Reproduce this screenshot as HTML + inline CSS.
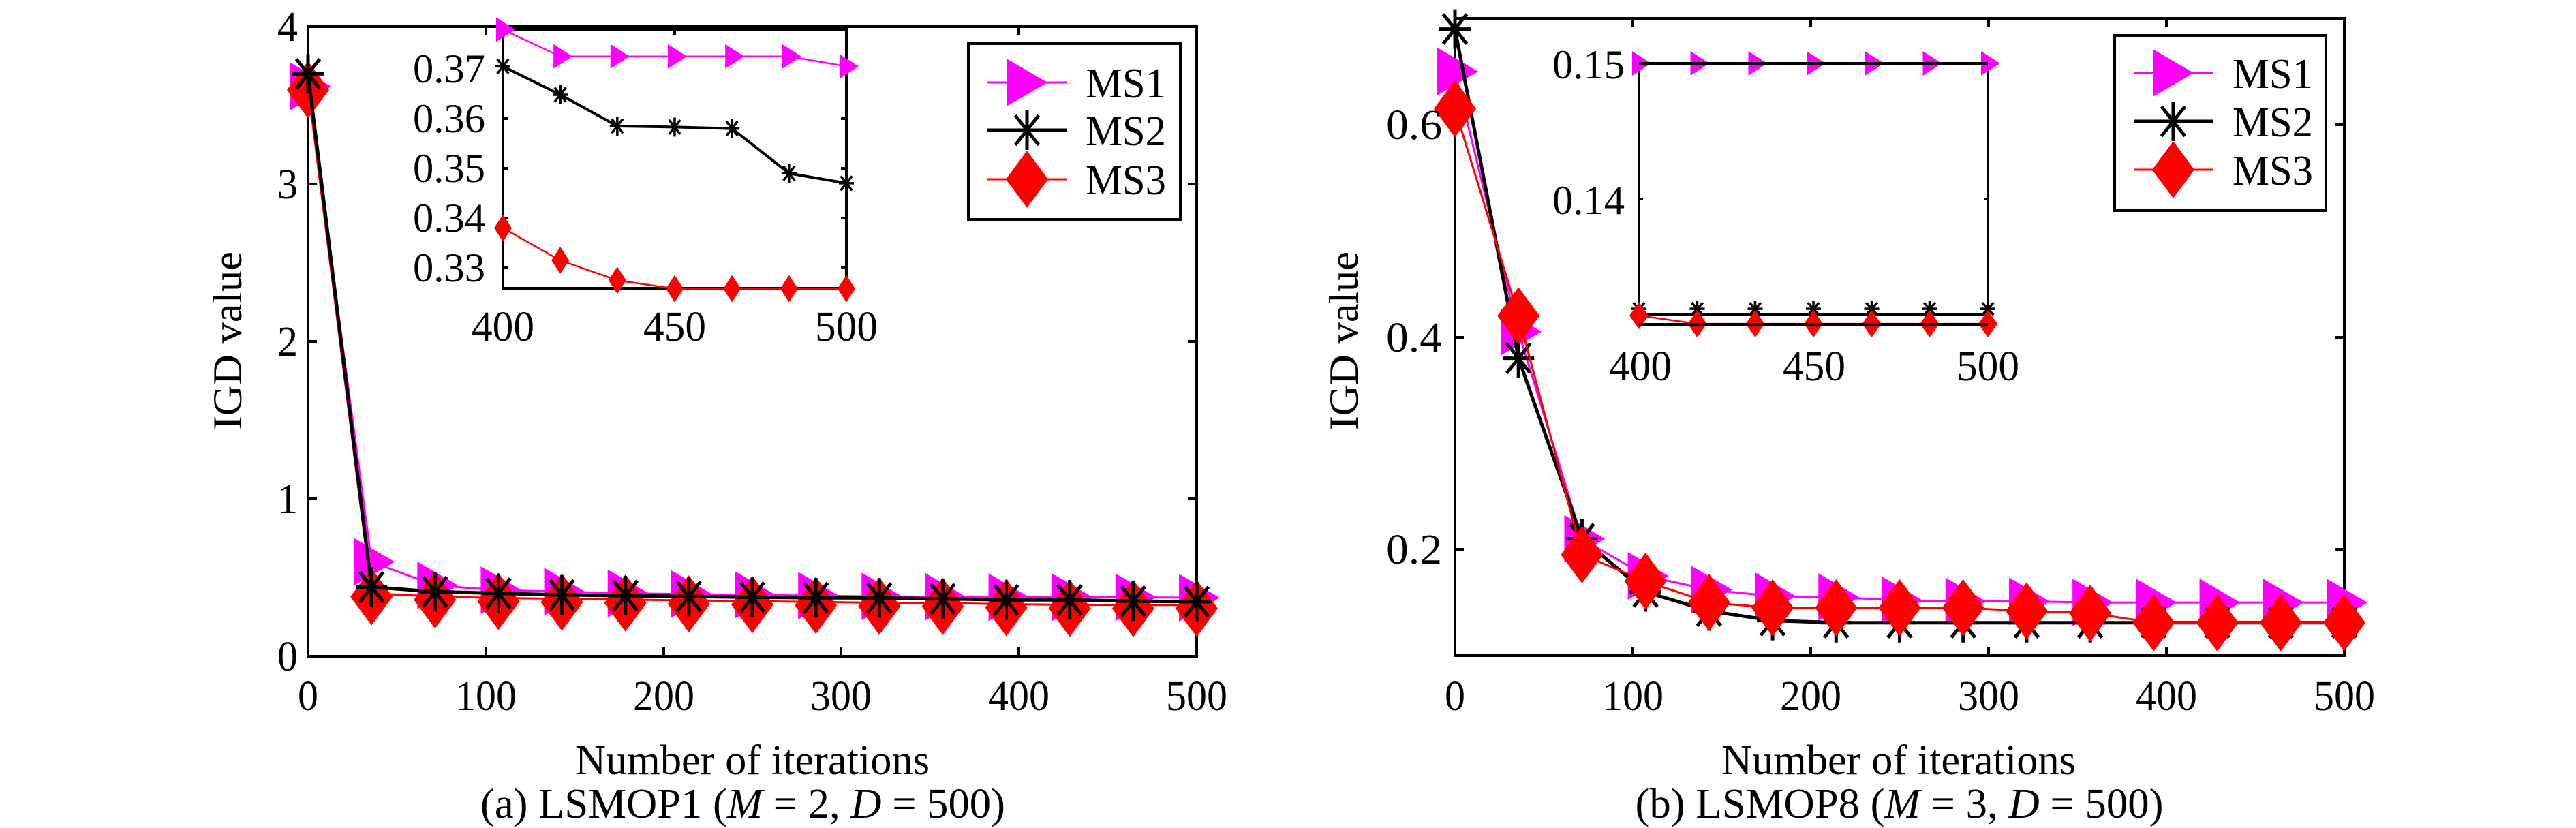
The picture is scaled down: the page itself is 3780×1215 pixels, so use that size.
<!DOCTYPE html>
<html><head><meta charset="utf-8"><style>
html,body{margin:0;padding:0;background:#fff;}
svg{display:block;}
svg text{font-family:"Liberation Serif","Times New Roman",serif;fill:#000;}
</style></head><body>
<svg id="s" width="3780" height="1215" viewBox="0 0 3780 1215" xmlns="http://www.w3.org/2000/svg" font-family="Liberation Serif, serif">
<rect width="3780" height="1215" fill="#fff"/>
<g id="g"></g>
<!-- left panel text -->
<g font-size="62" text-anchor="end">
<text x="437" y="60" textLength="30" lengthAdjust="spacingAndGlyphs">4</text>
<text x="437" y="291" textLength="30" lengthAdjust="spacingAndGlyphs">3</text>
<text x="437" y="522" textLength="30" lengthAdjust="spacingAndGlyphs">2</text>
<text x="437" y="753" textLength="30" lengthAdjust="spacingAndGlyphs">1</text>
<text x="437" y="984" textLength="30" lengthAdjust="spacingAndGlyphs">0</text>
</g>
<g font-size="62" text-anchor="middle">
<text x="452" y="1042" textLength="30" lengthAdjust="spacingAndGlyphs">0</text>
<text x="713" y="1042" textLength="90" lengthAdjust="spacingAndGlyphs">100</text>
<text x="974" y="1042" textLength="90" lengthAdjust="spacingAndGlyphs">200</text>
<text x="1234" y="1042" textLength="90" lengthAdjust="spacingAndGlyphs">300</text>
<text x="1495" y="1042" textLength="90" lengthAdjust="spacingAndGlyphs">400</text>
<text x="1756" y="1042" textLength="90" lengthAdjust="spacingAndGlyphs">500</text>
<text x="738" y="500" textLength="92" lengthAdjust="spacingAndGlyphs">400</text>
<text x="990" y="500" textLength="92" lengthAdjust="spacingAndGlyphs">450</text>
<text x="1242" y="500" textLength="92" lengthAdjust="spacingAndGlyphs">500</text>
</g>
<g font-size="60" text-anchor="end">
<text x="712" y="121" textLength="106" lengthAdjust="spacingAndGlyphs">0.37</text>
<text x="712" y="194" textLength="106" lengthAdjust="spacingAndGlyphs">0.36</text>
<text x="712" y="267" textLength="106" lengthAdjust="spacingAndGlyphs">0.35</text>
<text x="712" y="340" textLength="106" lengthAdjust="spacingAndGlyphs">0.34</text>
<text x="712" y="413" textLength="106" lengthAdjust="spacingAndGlyphs">0.33</text>
</g>
<text x="1104" y="1136" font-size="62" text-anchor="middle" textLength="520" lengthAdjust="spacingAndGlyphs">Number of iterations</text>
<text x="1090" y="1200" font-size="62" text-anchor="middle" textLength="770" lengthAdjust="spacingAndGlyphs">(a) LSMOP1 (<tspan font-style="italic">M</tspan> = 2, <tspan font-style="italic">D</tspan> = 500)</text>
<text transform="translate(354,500) rotate(-90)" font-size="60" text-anchor="middle" textLength="262" lengthAdjust="spacingAndGlyphs">IGD value</text>
<g font-size="62">
<text x="1593" y="143" textLength="118" lengthAdjust="spacingAndGlyphs">MS1</text>
<text x="1593" y="213" textLength="118" lengthAdjust="spacingAndGlyphs">MS2</text>
<text x="1593" y="285" textLength="118" lengthAdjust="spacingAndGlyphs">MS3</text>
</g>
<!-- right panel text -->
<g font-size="62" text-anchor="end">
<text x="2116" y="204" textLength="82" lengthAdjust="spacingAndGlyphs">0.6</text>
<text x="2116" y="516" textLength="82" lengthAdjust="spacingAndGlyphs">0.4</text>
<text x="2116" y="827" textLength="82" lengthAdjust="spacingAndGlyphs">0.2</text>
</g>
<g font-size="62" text-anchor="middle">
<text x="2135" y="1042" textLength="30" lengthAdjust="spacingAndGlyphs">0</text>
<text x="2396" y="1042" textLength="90" lengthAdjust="spacingAndGlyphs">100</text>
<text x="2657" y="1042" textLength="90" lengthAdjust="spacingAndGlyphs">200</text>
<text x="2918" y="1042" textLength="90" lengthAdjust="spacingAndGlyphs">300</text>
<text x="3179" y="1042" textLength="90" lengthAdjust="spacingAndGlyphs">400</text>
<text x="3440" y="1042" textLength="90" lengthAdjust="spacingAndGlyphs">500</text>
<text x="2407" y="558" textLength="92" lengthAdjust="spacingAndGlyphs">400</text>
<text x="2662" y="558" textLength="92" lengthAdjust="spacingAndGlyphs">450</text>
<text x="2917" y="558" textLength="92" lengthAdjust="spacingAndGlyphs">500</text>
</g>
<g font-size="60" text-anchor="end">
<text x="2384" y="115" textLength="106" lengthAdjust="spacingAndGlyphs">0.15</text>
<text x="2384" y="314" textLength="106" lengthAdjust="spacingAndGlyphs">0.14</text>
</g>
<text x="2786" y="1136" font-size="62" text-anchor="middle" textLength="520" lengthAdjust="spacingAndGlyphs">Number of iterations</text>
<text x="2787" y="1200" font-size="62" text-anchor="middle" textLength="775" lengthAdjust="spacingAndGlyphs">(b) LSMOP8 (<tspan font-style="italic">M</tspan> = 3, <tspan font-style="italic">D</tspan> = 500)</text>
<text transform="translate(1992,500) rotate(-90)" font-size="60" text-anchor="middle" textLength="262" lengthAdjust="spacingAndGlyphs">IGD value</text>
<g font-size="62">
<text x="3276" y="129" textLength="118" lengthAdjust="spacingAndGlyphs">MS1</text>
<text x="3276" y="200" textLength="118" lengthAdjust="spacingAndGlyphs">MS2</text>
<text x="3276" y="271" textLength="118" lengthAdjust="spacingAndGlyphs">MS3</text>
</g>
</svg>
<script>
(function(){
var NS="http://www.w3.org/2000/svg",g=document.getElementById("g");
function el(t,a){var e=document.createElementNS(NS,t);for(var k in a)e.setAttribute(k,a[k]);g.appendChild(e);return e;}
function line(x1,y1,x2,y2,c,w){el("line",{x1:x1,y1:y1,x2:x2,y2:y2,stroke:c,"stroke-width":w});}
function poly(pts,c,w){el("polyline",{points:pts.map(function(p){return p[0]+","+p[1]}).join(" "),fill:"none",stroke:c,"stroke-width":w,"stroke-linejoin":"round"});}
function tri(x,y,w,h){el("polygon",{points:(x-w/2)+","+(y-h/2)+" "+(x+w/2)+","+y+" "+(x-w/2)+","+(y+h/2),fill:"#f0f"});}
function dia(x,y,w,h){el("polygon",{points:x+","+(y-h/2)+" "+(x+w/2)+","+y+" "+x+","+(y+h/2)+" "+(x-w/2)+","+y,fill:"#f00"});}
function star(x,y,w,h,sw){var a=w/2,b=h/2;line(x-a,y,x+a,y,"#000",sw);line(x,y-b,x,y+b,"#000",sw);line(x-a*0.75,y-b*0.75,x+a*0.75,y+b*0.75,"#000",sw);line(x-a*0.75,y+b*0.75,x+a*0.75,y-b*0.75,"#000",sw);}
function axes(x0,x1,y0,y1,xt,yt,tl,w){
 el("rect",{x:x0,y:y0,width:x1-x0,height:y1-y0,fill:"none",stroke:"#000","stroke-width":w});
 xt.forEach(function(x){line(x,y1,x,y1-tl,"#000",w);line(x,y0,x,y0+tl,"#000",w);});
 yt.forEach(function(y){line(x0,y,x0+tl,y,"#000",w);line(x1,y,x1-tl,y,"#000",w);});
}
function series(xs,ys,sx,sy){
 return ys.map(function(s){return xs.map(function(x,i){return [sx(x),sy(s[i])]});});
}
var xs=[];for(var i=0;i<15;i++)xs.push(500*i/14);
var Lx=function(v){return 452+v/500*1304},Ly=function(v){return 963-v/4*924};
var A1=[3.62,0.60,0.45,0.42,0.41,0.40,0.395,0.39,0.385,0.38,0.378,0.375,0.375,0.375,0.372];
var A2=[3.70,0.44,0.41,0.40,0.39,0.385,0.38,0.375,0.372,0.37,0.365,0.358,0.358,0.35,0.347];
var A3=[3.62,0.40,0.38,0.37,0.365,0.36,0.355,0.35,0.345,0.34,0.338,0.331,0.327,0.326,0.326];
axes(452,1756,39,963,[452,713,974,1234,1495,1756],[39,270,501,732,963],13,4);
var P=series(xs,[A1,A2,A3],Lx,Ly);
poly(P[0],"#f0f",3);P[0].forEach(function(p){tri(p[0]+4,p[1],60,70)});
poly(P[2],"#f00",3);P[2].forEach(function(p){dia(p[0],p[1]+5,62,84)});
poly(P[1],"#000",5);P[1].forEach(function(p){star(p[0],p[1],46,58,5)});
var ix=function(v){return 738+(v-400)/100*504},iy=function(v){return 101+(0.37-v)/0.01*73};
el("rect",{x:738,y:43,width:504,height:380,fill:"#fff",stroke:"none"});
var xi=[400,416.7,433.3,450,466.7,483.3,500];
var I1=[0.3779,0.3725,0.3725,0.3725,0.3725,0.3725,0.3705],I2=[0.3705,0.3648,0.3585,0.3583,0.358,0.349,0.347],I3=[0.338,0.3315,0.3275,0.3258,0.3258,0.3258,0.3258];
axes(738,1242,43,423,[738,990,1242],[101,174,247,320,393],8,4);
var Q=series(xi,[I1,I2,I3],ix,iy);
poly(Q[0],"#f0f",2.5);Q[0].forEach(function(p){tri(p[0]+4,p[1],28,36)});
poly(Q[2],"#f00",2.5);Q[2].forEach(function(p){dia(p[0],p[1],26,40)});
poly(Q[1],"#000",4);Q[1].forEach(function(p){star(p[0],p[1],22,28,3.5)});
el("rect",{x:1421,y:64,width:311,height:258,fill:"#fff",stroke:"#000","stroke-width":4});
line(1449,121,1565,121,"#f0f",3);tri(1507,121,60,70);
line(1449,191,1565,191,"#000",5);star(1507,191,46,58,5);
line(1449,263,1565,263,"#f00",3);dia(1507,263,62,84);
var Rx=function(v){return 2135+v/500*1305},Ry=function(v){return 962-(v-0.1)/0.6*935};
var B1=[0.650,0.405,0.210,0.175,0.162,0.156,0.155,0.152,0.151,0.151,0.150,0.150,0.150,0.150,0.150];
var B2=[0.690,0.380,0.210,0.160,0.142,0.133,0.131,0.131,0.131,0.131,0.131,0.131,0.131,0.131,0.131];
var B3=[0.615,0.420,0.195,0.170,0.150,0.145,0.145,0.145,0.145,0.142,0.140,0.131,0.131,0.131,0.131];
axes(2135,3440,27,962,[2135,2396,2657,2918,3179,3440],[183,495,806],13,4);
var R=series(xs,[B1,B2,B3],Rx,Ry);
poly(R[0],"#f0f",3);R[0].forEach(function(p){tri(p[0]+4,p[1],60,70)});
poly(R[1],"#000",5);R[1].forEach(function(p){star(p[0],p[1],46,58,5)});
poly(R[2],"#f00",3);R[2].forEach(function(p){dia(p[0],p[1],62,84)});
var jx=function(v){return 2405+(v-400)/100*512},jy=function(v){return 93+(0.15-v)/0.01*199};
el("rect",{x:2405,y:93,width:512,height:383,fill:"#fff",stroke:"none"});
var J1=[0.15,0.15,0.15,0.15,0.15,0.15,0.15],J2=[0.1315,0.1315,0.1315,0.1315,0.1315,0.1315,0.1315],J3=[0.1314,0.1308,0.1308,0.1308,0.1308,0.1308,0.1308];
axes(2405,2917,93,476,[2405,2661,2917],[292],6,4);
var S=series(xi,[J1,J2,J3],jx,jy);
poly(S[0],"#f0f",2.5);S[0].forEach(function(p){tri(p[0]+4,p[1],28,36)});
poly(S[1],"#000",4);S[1].forEach(function(p){star(p[0],p[1]-8,22,24,3.5)});
poly(S[2],"#f00",2.5);S[2].forEach(function(p){dia(p[0],p[1],28,40)});
line(2405,476,2917,476,"#000",4);line(2405,93,2917,93,"#000",4);
el("rect",{x:3103,y:52,width:310,height:257,fill:"#fff",stroke:"#000","stroke-width":4});
line(3131,107,3247,107,"#f0f",3);tri(3189,107,60,70);
line(3131,178,3247,178,"#000",5);star(3189,178,46,58,5);
line(3131,249,3247,249,"#f00",3);dia(3189,249,62,84);
})();
</script>
</body></html>
